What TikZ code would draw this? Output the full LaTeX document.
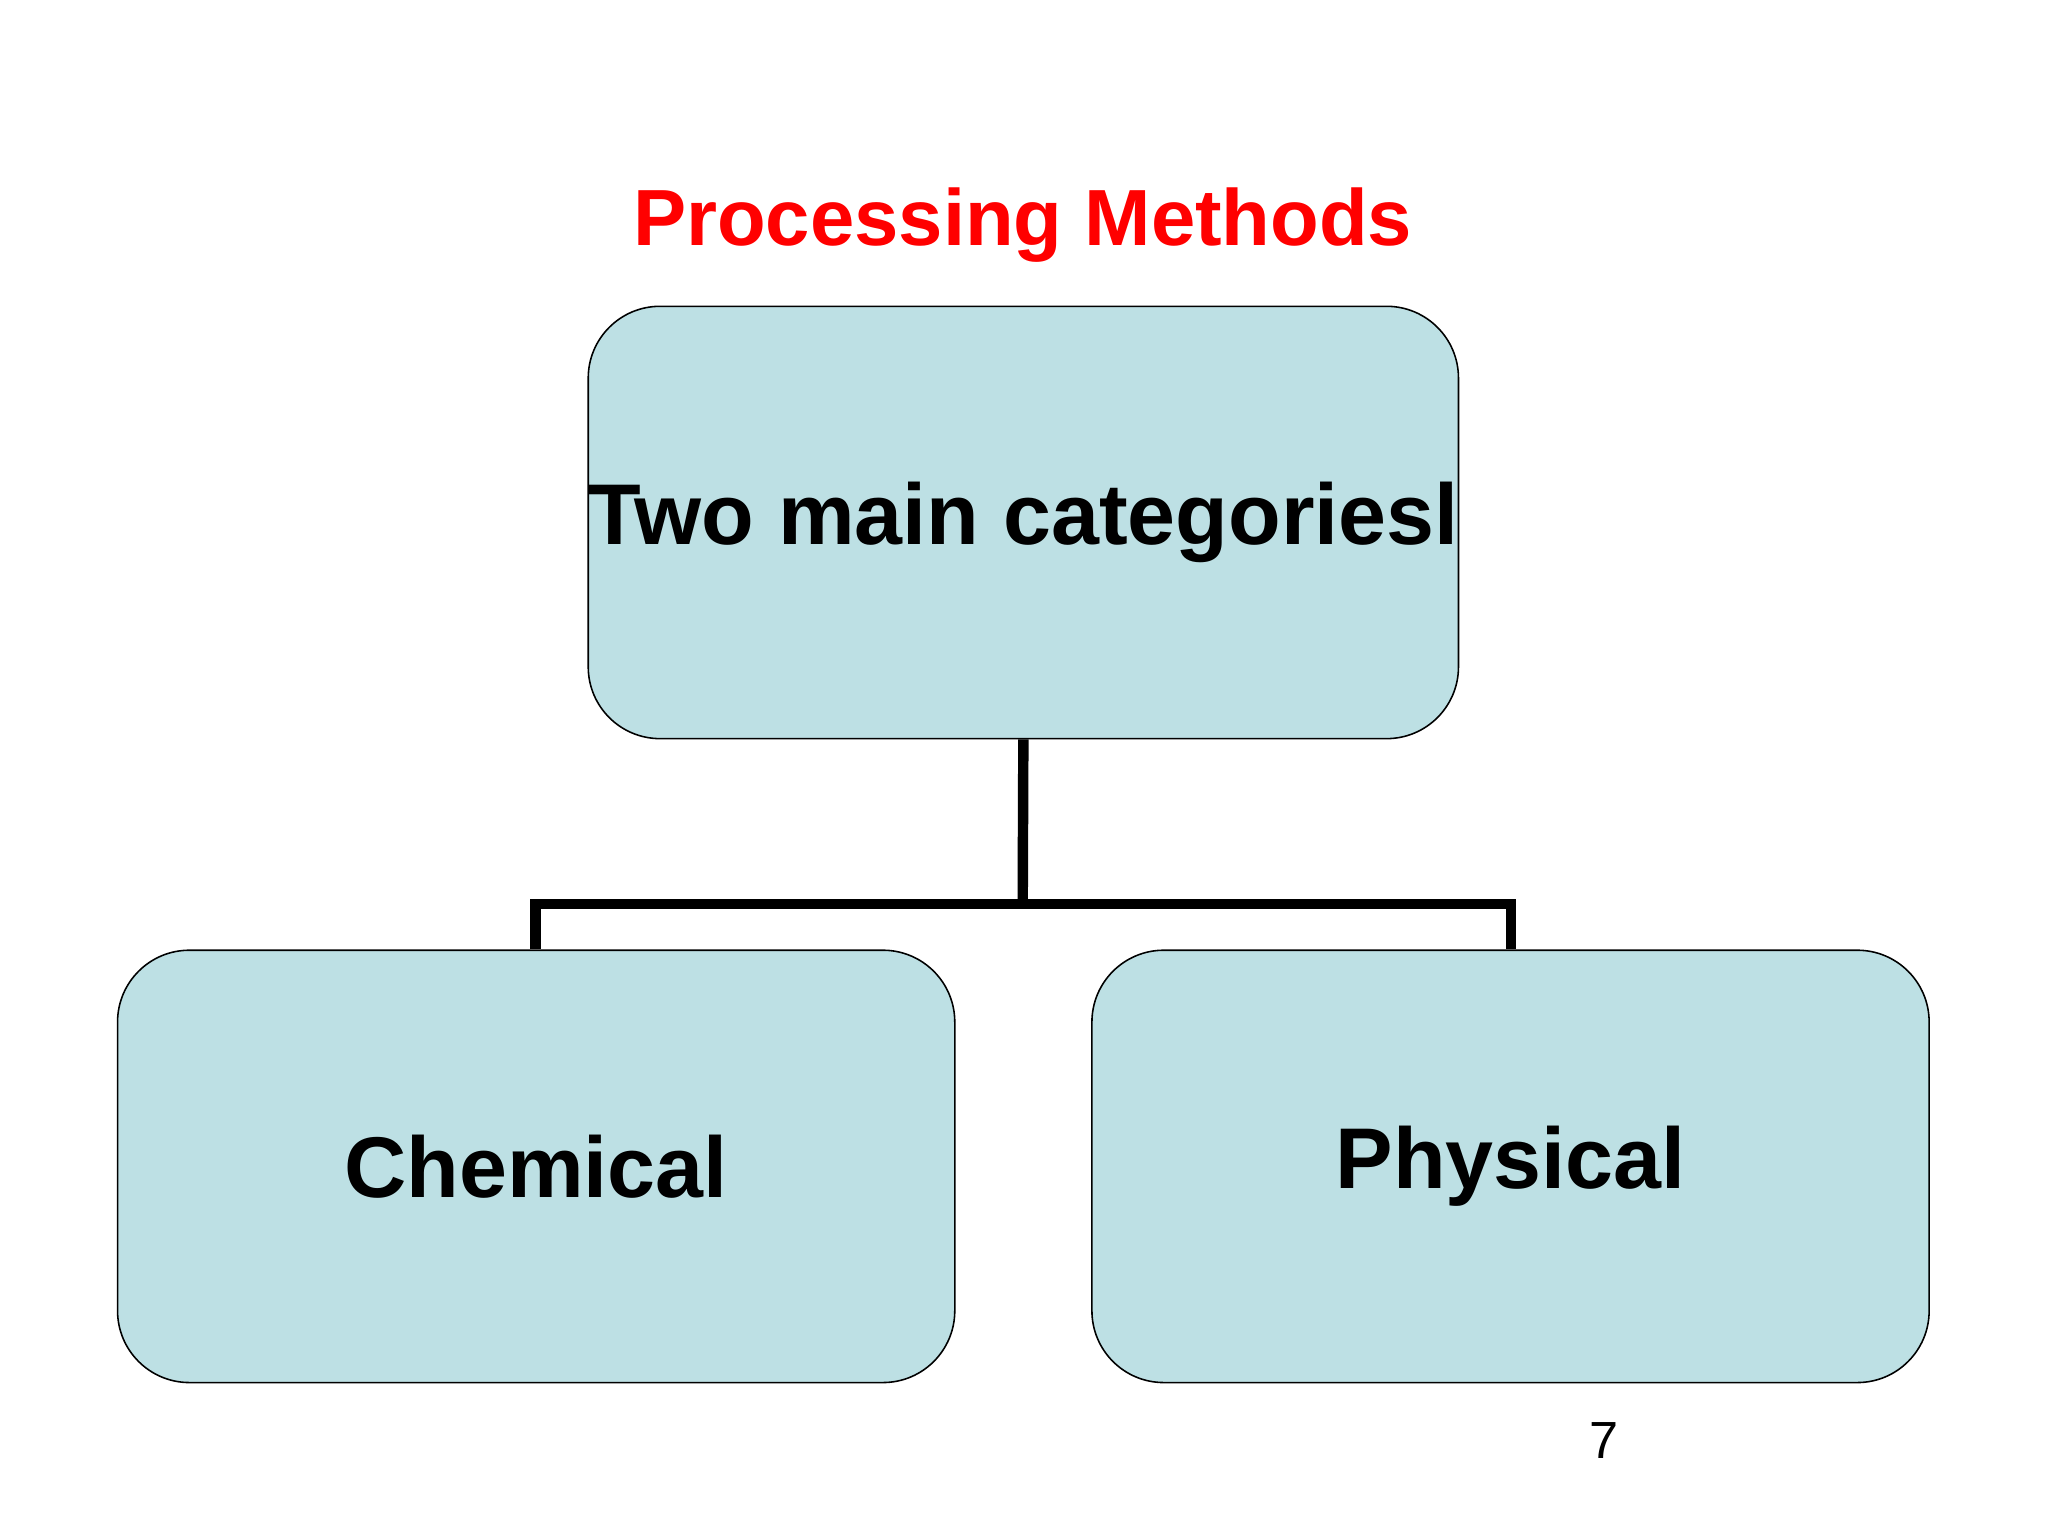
\documentclass[tikz,border=0pt]{standalone}
\usepackage{fontspec}
\setmainfont{Liberation Sans}
\begin{document}
\begin{tikzpicture}[x=1pt,y=-1pt,
  box/.style={draw=black,line width=1.2pt,fill=boxc,rounded corners=55pt,minimum width=641pt,minimum height=331pt,inner sep=0pt,font=\fontsize{66}{70}\selectfont\bfseries},
  conn/.style={line width=8pt}]
\definecolor{boxc}{HTML}{BDE0E4}
\useasboundingbox (0,0) rectangle (1568,1176);
\node[text=red,font=\fontsize{61}{66}\selectfont\bfseries] (title) at (783,172) {Processing Methods};
\node[box] (top) at (783.5,400) {Two main categoriesl};
\node[box] (chem) at (410.5,893) {Chemical};
\node[box] (phys) at (1156.5,893) {Physical};
\coordinate (j) at (783,692);
\draw[conn] (top.south) -- (j);
\draw[conn] (chem.north -| 410,0) |- (j) -| (phys.north -| 1157,0);
\node[font=\fontsize{40}{44}\selectfont] (pg) at (1228,1103) {7};
\end{tikzpicture}
\end{document}
